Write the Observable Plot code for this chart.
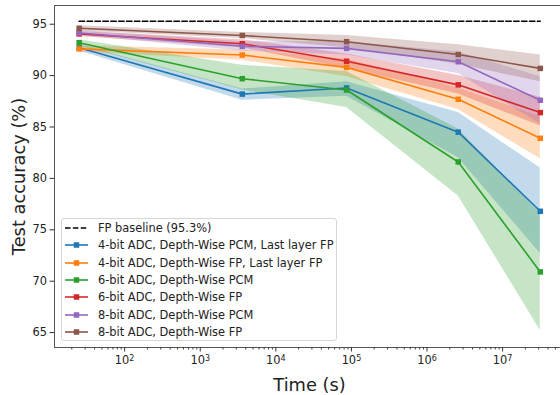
<!DOCTYPE html>
<html>
<head>
<meta charset="utf-8">
<script src="https://cdn.jsdelivr.net/npm/d3@7"></script>
<script src="https://cdn.jsdelivr.net/npm/@observablehq/plot@0.6"></script>
<style>
  html, body { margin: 0; padding: 0; background: #fff; }
  #wrap { position: relative; width: 560px; height: 395px; overflow: hidden; font-family: "DejaVu Sans", sans-serif; }
  #legend { position: absolute; left: 61px; top: 218px; width: 276px; height: 123px;
    border: 1px solid #d6d6d6; border-radius: 3px; background: rgba(255,255,255,0.85);
    font-size: 11.4px; color: #222; box-sizing: border-box; padding-top: 0px; }
  .item { position: absolute; left: 0; height: 17px; display: flex; align-items: center; white-space: nowrap; }
  .item svg { margin-left: 3px; margin-right: 9px; }
</style>
</head>
<body>
<div id="wrap"><div id="chart"></div><div id="legend"></div></div>
<script>
const times = [25, 3600, 86400, 2592000, 31536000];
const seriesNames = [
  "4-bit ADC, Depth-Wise PCM, Last layer FP",
  "4-bit ADC, Depth-Wise FP, Last layer FP",
  "6-bit ADC, Depth-Wise PCM",
  "6-bit ADC, Depth-Wise FP",
  "8-bit ADC, Depth-Wise PCM",
  "8-bit ADC, Depth-Wise FP"
];
const seriesColors = ["#1f77b4", "#ff7f0e", "#2ca02c", "#d62728", "#9467bd", "#8c564b"];
const meanValues = [
  [92.7, 88.2, 88.8, 84.5, 76.8],
  [92.6, 92.0, 90.8, 87.7, 83.9],
  [93.2, 89.7, 88.6, 81.6, 70.9],
  [94.05, 93.1, 91.4, 89.1, 86.4],
  [94.15, 92.85, 92.65, 91.35, 87.6],
  [94.6, 93.9, 93.3, 92.05, 90.7]
];
const lowValues = [
  [92.4, 87.6, 88.0, 82.0, 72.7],
  [92.3, 91.5, 89.9, 86.7, 81.9],
  [92.9, 88.6, 86.9, 78.3, 65.2],
  [93.8, 92.7, 90.7, 88.2, 85.1],
  [93.9, 92.4, 92.0, 90.2, 85.3],
  [94.35, 93.6, 92.7, 91.1, 89.4]
];
const highValues = [
  [93.0, 88.7, 89.4, 86.4, 81.0],
  [92.9, 92.5, 91.6, 88.8, 86.0],
  [93.5, 91.0, 90.4, 84.8, 76.6],
  [94.3, 93.5, 92.1, 90.0, 87.9],
  [94.4, 93.3, 93.3, 92.3, 89.9],
  [94.85, 94.2, 93.9, 93.0, 92.0]
];
const baselineValue = 95.3;
const baselineLabel = "FP baseline (95.3%)";
const yTicks = [65, 70, 75, 80, 85, 90, 95];
const xMajorTicks = [1e2, 1e3, 1e4, 1e5, 1e6, 1e7];

const rows = [];
seriesNames.forEach((s, i) => times.forEach((t, j) => rows.push({
  series: s, t, mean: meanValues[i][j], lo: lowValues[i][j], hi: highValues[i][j]
})));
const baseline = times.map(t => ({t, v: baselineValue}));

const xMinorTicks = [];
for (let e = 1; e <= 7; e++) for (let m = 2; m <= 9; m++) xMinorTicks.push(m * Math.pow(10, e));

const fmtPow = d => "10^" + Math.round(Math.log10(d));

const plot = Plot.plot({
  width: 560, height: 395,
  marginTop: 5, marginBottom: 48, marginLeft: 54, marginRight: -4,
  style: {fontFamily: "DejaVu Sans, sans-serif", fontSize: "11.4px", color: "#222", background: "transparent"},
  x: {type: "log", domain: [11.8, 6.59e7]},
  y: {domain: [63.55, 96.82]},
  color: {domain: seriesNames, range: seriesColors},
  marks: [
    Plot.areaY(rows, {x: "t", y1: "lo", y2: "hi", z: "series", fill: "series", fillOpacity: 0.27}),
    Plot.line(baseline, {x: "t", y: "v", stroke: "black", strokeWidth: 1.5, strokeDasharray: "5.5,2.4"}),
    Plot.line(rows, {x: "t", y: "mean", z: "series", stroke: "series", strokeWidth: 1.6}),
    Plot.dot(rows, {x: "t", y: "mean", fill: "series", symbol: "square", r: 3.1}),
    Plot.frame({stroke: "#555", strokeWidth: 1}),
    Plot.axisX({ticks: xMinorTicks, tickSize: 2.5, tickFormat: () => "", label: null, stroke: "#444"}),
    Plot.axisX({ticks: xMajorTicks, tickSize: 4.5, tickPadding: 4, tickFormat: fmtPow, stroke: "#333",
      label: "Time (s)", labelAnchor: "center", labelArrow: "none", labelOffset: 43, fontSize: 11.4}),
    Plot.axisY({ticks: yTicks, tickSize: 4.5, tickPadding: 3, stroke: "#333",
      label: "Test accuracy (%)", labelAnchor: "center", labelArrow: "none", labelOffset: 42, fontSize: 11.4})
  ]
});
// enlarge axis labels
plot.querySelectorAll("g[aria-label='x-axis label'] text, g[aria-label='y-axis label'] text").forEach(t => t.style.fontSize = "17.8px");
// mathtext-like superscripts for the power-of-ten tick labels
plot.querySelectorAll("g[aria-label='x-axis tick label'] text").forEach(t => {
  const s = t.textContent;
  if (s.startsWith("10^")) {
    const p = s.slice(3);
    t.textContent = "";
    const base = document.createElementNS("http://www.w3.org/2000/svg", "tspan");
    base.textContent = "10";
    const ex = document.createElementNS("http://www.w3.org/2000/svg", "tspan");
    ex.textContent = p;
    ex.setAttribute("dy", "-0.45em");
    ex.setAttribute("font-size", "8px");
    t.appendChild(base); t.appendChild(ex);
  }
});
document.getElementById("chart").appendChild(plot);

// legend
const legend = document.getElementById("legend");
const entries = [{label: baselineLabel, color: "black", dashed: true}]
  .concat(seriesNames.map((s, i) => ({label: s, color: seriesColors[i]})));
entries.forEach((e, i) => {
  const div = document.createElement("div");
  div.className = "item";
  div.style.top = (0.5 + i * 17.35) + "px";
  const svg = `<svg width="24" height="10" viewBox="0 0 24 10">
    <line x1="0" y1="5" x2="23" y2="5" stroke="${e.color}" stroke-width="1.6" ${e.dashed ? 'stroke-dasharray="5.5,2.4"' : ''}/>
    ${e.dashed ? '' : `<rect x="8.75" y="2.25" width="5.5" height="5.5" fill="${e.color}"/>`}
  </svg>`;
  div.innerHTML = svg + `<span>${e.label}</span>`;
  legend.appendChild(div);
});
</script>
</body>
</html>
